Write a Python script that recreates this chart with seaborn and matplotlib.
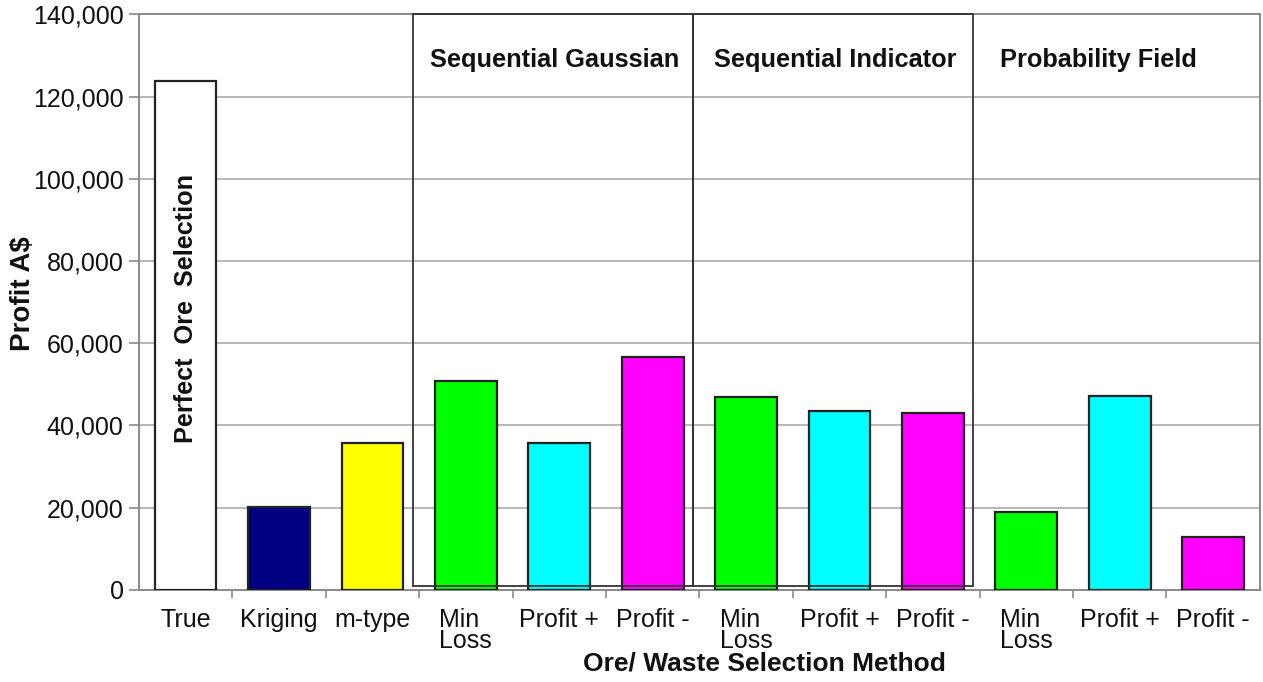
import matplotlib
matplotlib.use("Agg")
import matplotlib.pyplot as plt
from matplotlib.patches import Rectangle
from matplotlib.ticker import FuncFormatter, FixedLocator
import seaborn as sns
import pandas as pd

# Selection methods along the x axis, grouped by simulation family
groups = ["", "", "", "Sequential Gaussian", "Sequential Gaussian", "Sequential Gaussian",
          "Sequential Indicator", "Sequential Indicator", "Sequential Indicator",
          "Probability Field", "Probability Field", "Probability Field"]
methods = ["True", "Kriging", "m-type", "Min\nLoss", "Profit +", "Profit -",
           "Min\nLoss", "Profit +", "Profit -", "Min\nLoss", "Profit +", "Profit -"]
profit = [123700, 20100, 35700, 50800, 35700, 56600,
          46900, 43500, 43000, 19000, 47100, 12900]
bar_colors = ["#FFFFFF", "#000080", "#FFFF00", "#00FF00", "#00FFFF", "#FF00FF",
              "#00FF00", "#00FFFF", "#FF00FF", "#00FF00", "#00FFFF", "#FF00FF"]
group_titles = ["Sequential Gaussian", "Sequential Indicator", "Probability Field"]
y_ticks = [0, 20000, 40000, 60000, 80000, 100000, 120000, 140000]

keys = [f"{i:02d}" for i in range(len(methods))]
df = pd.DataFrame({"key": keys, "method": methods, "group": groups, "profit": profit})

sns.set_theme(style="white")
plt.rcParams["font.family"] = ["Liberation Sans", "DejaVu Sans"]

fig = plt.figure(figsize=(12.63, 6.82), dpi=100)
ax = fig.add_axes([0.110, 0.135, 0.8875, 0.844])

sns.barplot(data=df, x="key", y="profit", hue="key", palette=dict(zip(keys, bar_colors)),
            order=keys, legend=False, width=0.66, edgecolor="#222222", linewidth=1.6,
            saturation=1.0, ax=ax, zorder=3)

ax.set_ylim(0, 140000)
ax.set_xlim(-0.5, len(keys) - 0.5)
ax.yaxis.set_major_locator(FixedLocator(y_ticks))
ax.yaxis.set_major_formatter(FuncFormatter(lambda v, p: f"{int(v):,}"))
ax.grid(axis="y", color="#b8b8b8", linewidth=1.4, zorder=0)
ax.set_axisbelow(True)

for side in ["left", "bottom", "top", "right"]:
    ax.spines[side].set_visible(True)
    ax.spines[side].set_color("#8a8a8a")
    ax.spines[side].set_linewidth(1.4)

# Category labels centred under bars; ticks sit on the category boundaries
ax.set_xticks(range(len(keys)))
ax.set_xticklabels(methods, fontsize=18, color="#111111", ha="center", va="top",
                   multialignment="left", linespacing=0.85)
ax.tick_params(axis="x", which="major", length=0, pad=13)
ax.set_xticks([i + 0.5 for i in range(len(keys) - 1)], minor=True)
ax.tick_params(axis="x", which="minor", length=6, width=1.2, color="#8a8a8a", bottom=True)
ax.tick_params(axis="y", which="major", length=7, width=1.2, color="#8a8a8a",
               labelsize=18, labelcolor="#111111", pad=4, left=True)

ax.set_ylabel("Profit A$", fontsize=20, fontweight="bold", color="#111111")
ax.yaxis.label.set_va("center")
ax.yaxis.set_label_coords(-0.1035, 0.514)
ax.set_xlabel("Ore/ Waste Selection Method", fontsize=19, fontweight="bold",
              color="#111111")
ax.xaxis.label.set_va("center")
ax.xaxis.set_label_coords(0.558, -0.127)

# Frames around the two sequential-simulation groups
box_bottom = 1000
for g in group_titles[:2]:
    idx = [i for i, gg in enumerate(groups) if gg == g]
    x0 = idx[0] - 0.5 - 0.07
    x1 = idx[-1] + 0.5 - 0.07
    ax.add_patch(Rectangle((x0, box_bottom), x1 - x0, 140000 - box_bottom,
                           fill=False, edgecolor="#333333", linewidth=1.3, zorder=4,
                           clip_on=False))

# Group titles
for g in group_titles:
    idx = [i for i, gg in enumerate(groups) if gg == g]
    xc = (idx[0] + idx[-1]) / 2 - 0.05
    if g == "Probability Field":
        xc -= 0.18
    ax.text(xc, 129000, g, ha="center", va="center", fontsize=18.3,
            fontweight="bold", color="#111111", zorder=5)

# Annotation inside the perfect-selection bar
ax.text(0, 68500, "Perfect  Ore  Selection", rotation=90, ha="center", va="center",
        fontsize=18.2, fontweight="bold", color="#111111", zorder=5)

fig.savefig("out.png", dpi=100, facecolor="white")
